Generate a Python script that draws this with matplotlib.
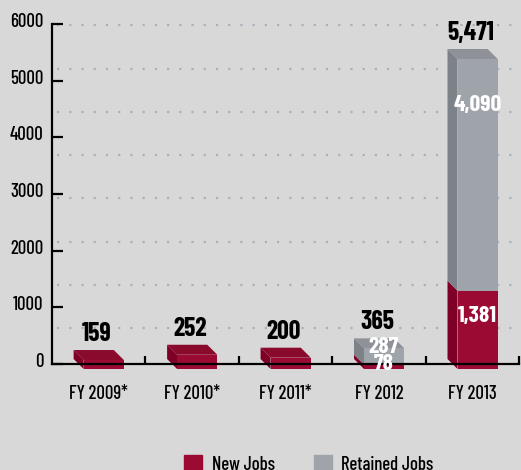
import numpy as np
import matplotlib.pyplot as plt
from matplotlib.patches import Polygon, Patch
from matplotlib.transforms import ScaledTranslation

# Dati
years = ["FY 2009*", "FY 2010*", "FY 2011*", "FY 2012", "FY 2013"]
new_jobs = [159, 252, 200, 78, 1381]
retained_jobs = [0, 0, 0, 287, 4090]
totals = [159, 252, 200, 365, 5471]
grid_vals = [635, 1400, 2160, 2925, 3690, 4450, 5215, 5980]

# Colori
bg = "#d8d8d8"
red = ["#9b0a32", "#7f0026", "#8a0a2c"]    # fronte, lato, sopra
gray = ["#9fa4aa", "#7d8188", "#8e9298"]

plt.rcParams['font.family'] = ['Barlow Condensed', 'DejaVu Sans']
plt.rcParams['font.stretch'] = 'condensed'
plt.rcParams['font.weight'] = 500

fig = plt.figure(figsize=(5.21, 4.70), dpi=100, facecolor=bg)
ax = fig.add_axes([0.0998, 0.2255, 0.897, 0.7234], facecolor=bg)
ax.set_xlim(-0.5, 4.5)
ax.set_ylim(0, 6000)

# profondita' 3D (in unita' dati)
ddx = 0.107
ddy = 176
w = 0.43

for g in grid_vals:
    ax.axhline(g, xmin=0.01, color="#aab0ba", lw=1.6, ls=(0, (1, 4.5)), zorder=0)


def box(x, b, h, cols, top):
    xl = x + ddx / 2 - w / 2
    xr = xl + w
    y0 = b - ddy / 2
    y1 = y0 + h
    ax.bar(xl, h, bottom=y0, width=w, align='edge', color=cols[0],
           edgecolor='none', zorder=3, clip_on=False)
    side = [(xl, y0), (xl, y1), (xl - ddx, y1 + ddy), (xl - ddx, y0 + ddy)]
    ax.add_patch(Polygon(side, closed=True, fc=cols[1], ec='none', zorder=2, clip_on=False))
    if top:
        tp = [(xl, y1), (xr, y1), (xr - ddx, y1 + ddy), (xl - ddx, y1 + ddy)]
        ax.add_patch(Polygon(tp, closed=True, fc=cols[2], ec='none', zorder=2, clip_on=False))


for i in range(len(years)):
    box(i, 0, new_jobs[i], red, retained_jobs[i] == 0)
    if retained_jobs[i] > 0:
        box(i, new_jobs[i], retained_jobs[i], gray, True)
    ax.text(i - 0.02, totals[i] + 250, format(totals[i], ","), ha='center', va='baseline',
            fontsize=18.5, fontweight='bold', color='black', zorder=5)
    if retained_jobs[i] > 0:
        yr = totals[i] - 0.22 * retained_jobs[i]
        yn = new_jobs[i] * 0.61 if new_jobs[i] > 500 else new_jobs[i] - 80
        ax.text(i + 0.05, yr, format(retained_jobs[i], ","), ha='center', va='center',
                fontsize=17, fontweight='bold', color='white', zorder=5)
        ax.text(i + 0.05, yn, format(new_jobs[i], ","), ha='center', va='center',
                fontsize=17, fontweight='bold', color='white', zorder=5)

# Assi
for s in ["top", "right"]:
    ax.spines[s].set_visible(False)
for s in ["left", "bottom"]:
    ax.spines[s].set_linewidth(1.6)
    ax.spines[s].set_zorder(4)

ax.set_yticks(range(0, 6001, 1000))
ax.tick_params(axis='y', direction='in', length=8, width=1.6, pad=6, labelsize=13.5)
off = ScaledTranslation(0, 4 / 100, fig.dpi_scale_trans)
for lab in ax.get_yticklabels():
    lab.set_transform(lab.get_transform() + off)

ax.set_xticks(range(len(years)))
ax.set_xticklabels(years)
ax.set_xticks(np.arange(0.5, 4.6, 1), minor=True)
ax.tick_params(axis='x', which='major', length=0, pad=15, labelsize=13.5)
ax.tick_params(axis='x', which='minor', direction='in', length=6, width=1.6)

handles = [Patch(color=red[0]), Patch(color=gray[0])]
fig.legend(handles, ["New Jobs", "Retained Jobs"], loc='center',
           bbox_to_anchor=(0.593, 0.012), ncol=2, frameon=False, fontsize=13.5,
           handlelength=0.95, handleheight=0.95, columnspacing=2.1, handletextpad=0.5)

fig.savefig("out.png", dpi=100, facecolor=bg)
